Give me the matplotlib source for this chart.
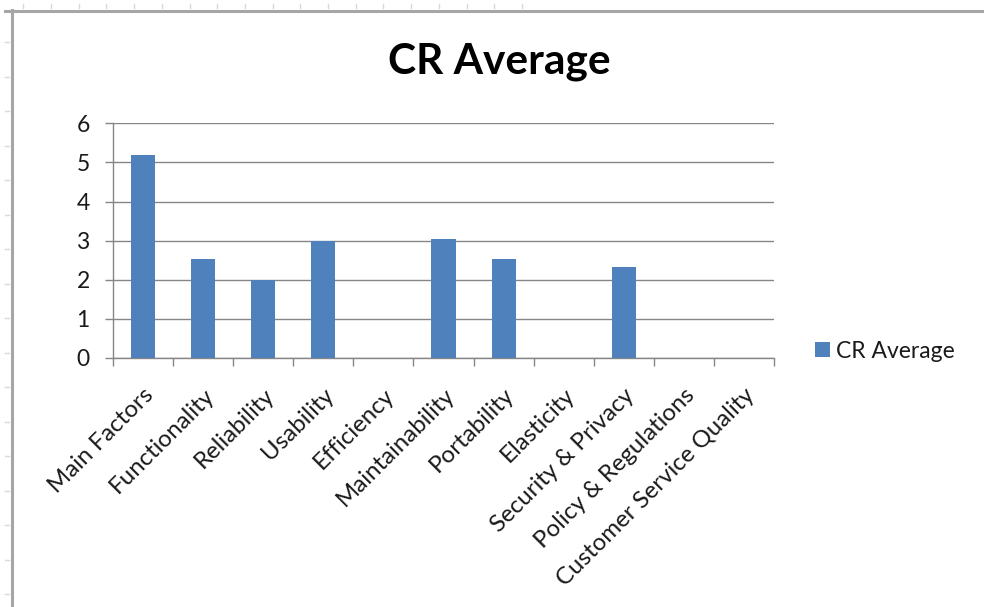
import matplotlib
matplotlib.use("Agg")
import matplotlib.pyplot as plt
from matplotlib.lines import Line2D
import numpy as np

categories = ["Main Factors", "Functionality", "Reliability", "Usability", "Efficiency",
              "Maintainability", "Portability", "Elasticity", "Security & Privacy",
              "Policy & Regulations", "Customer Service Quality"]
cr_average = [5.2, 2.53, 2.0, 3.0, 0, 3.03, 2.53, 0, 2.33, 0, 0]
yticks = [0, 1, 2, 3, 4, 5, 6]
title = "CR Average"
series_name = "CR Average"

FONT = ["Lato", "DejaVu Sans"]
plt.rcParams["font.family"] = FONT

W, H = 984, 607
fig = plt.figure(figsize=(W / 100, H / 100), dpi=100)
fig.patch.set_facecolor("white")

# spreadsheet frame decoration
grey = "#a6a6a6"
fig.add_artist(Line2D([5 / W, 1], [1 - 11 / H, 1 - 11 / H], color=grey, lw=2.2))
fig.add_artist(Line2D([12 / W, 12 / W], [0, 1 - 10 / H], color=grey, lw=2.2))
for i in range(19):
    x = (23.3 + 27.7 * i) / W
    fig.add_artist(Line2D([x, x], [1 - 4 / H, 1 - 8 / H], color="#d9d9d9", lw=1))
for i in range(17):
    y = 1 - (42.3 + 34.5 * i) / H
    fig.add_artist(Line2D([5 / W, 9 / W], [y, y], color="#d9d9d9", lw=1))

ax = fig.add_axes([113 / W, 1 - 358 / H, (774 - 113) / W, (358 - 123.3) / H])
x = np.arange(len(categories))
bars = ax.bar(x, cr_average, width=0.4, color="#4F81BD", label=series_name, zorder=3)

FS = 16.5
ax.set_xlim(-0.5, len(categories) - 0.5)
ax.set_ylim(0, 6)
ax.set_yticks(yticks)
ax.yaxis.grid(True, color="#868686", lw=1.0, zorder=0)
ax.tick_params(axis="y", length=5.8, width=1, color="#868686", labelsize=FS, pad=11,
               labelcolor="#1a1a1a")

ax.set_xticks(x)
ax.set_xticklabels(categories, rotation=45, ha="right", va="top", rotation_mode="anchor",
                   fontsize=17.3, color="#1a1a1a")
ax.tick_params(axis="x", which="major", length=0, pad=19)
ax.set_xticks(np.arange(len(categories) + 1) - 0.5, minor=True)
ax.tick_params(axis="x", which="minor", length=5.8, width=1, color="#868686")

for s in ["top", "right"]:
    ax.spines[s].set_visible(False)
for s in ["left", "bottom"]:
    ax.spines[s].set_color("#868686")
    ax.spines[s].set_linewidth(1.0)

fig.text((388 + 610) / 2 / W, 1 - 62 / H, title, ha="center", va="center",
         fontsize=30.5, fontweight="bold", color="black")

ax.legend(loc="center left", bbox_to_anchor=(794 / W, 1 - 351 / H), bbox_transform=fig.transFigure,
          frameon=False, fontsize=FS, handlelength=0.65, handleheight=0.65, handletextpad=0.3,
          labelcolor="#1a1a1a")

fig.savefig("out.png", dpi=100)
